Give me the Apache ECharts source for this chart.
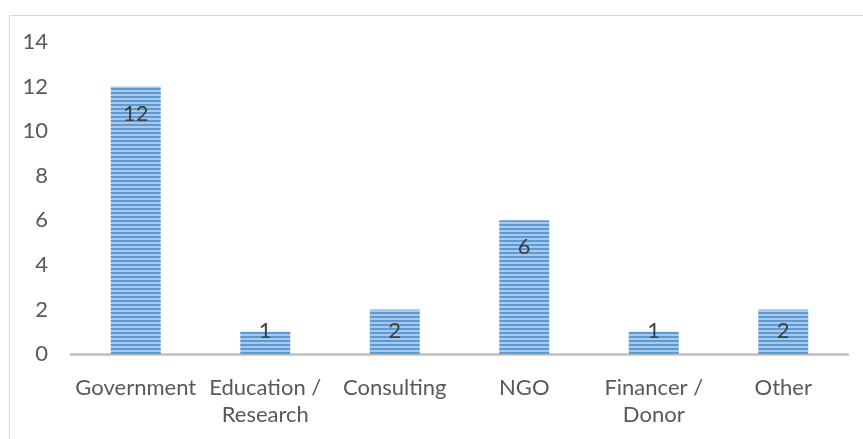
<!DOCTYPE html>
<html><head><meta charset="utf-8">
<script src="https://cdn.jsdelivr.net/npm/echarts@6/dist/echarts.min.js"></script>
<style>html,body{margin:0;padding:0;background:#fff}#c{width:863px;height:439px}</style>
</head><body><div id="c"></div>
<script>
const categories = ['Government', 'Education /\nResearch', 'Consulting', 'NGO', 'Financer /\nDonor', 'Other'];
const values = [12, 1, 2, 6, 1, 2];
const yTicks = { min: 0, max: 14, interval: 2 };

// striped fill pattern
const pc = document.createElement('canvas');
pc.width = 4; pc.height = 4;
const ctx = pc.getContext('2d');
ctx.fillStyle = '#a9c9ec'; ctx.fillRect(0, 0, 4, 4);
ctx.fillStyle = '#5b9bd5'; ctx.fillRect(0, 0, 4, 2);

const gridTop = 42, gridBottom = 85, H = 439;
const pxPerUnit = (H - gridTop - gridBottom) / (yTicks.max - yTicks.min);

const chart = echarts.init(document.getElementById('c'), null, { renderer: 'canvas' });
chart.setOption({
  animation: false,
  graphic: [{
    type: 'rect', left: 7, top: 13, silent: true,
    shape: { width: 900, height: 500 },
    style: { fill: 'none', stroke: '#d9d9d9', lineWidth: 1 }
  }],
  grid: { left: 71, right: 15, top: gridTop, bottom: gridBottom },
  xAxis: {
    type: 'category', data: categories,
    axisLine: { lineStyle: { color: '#bfbfbf', width: 2.5 } },
    axisTick: { show: false },
    axisLabel: { color: '#595959', fontFamily: 'Lato', fontSize: 22, margin: 20, lineHeight: 27, interval: 0 }
  },
  yAxis: {
    type: 'value', min: yTicks.min, max: yTicks.max, interval: yTicks.interval,
    splitLine: { show: false },
    axisLine: { show: false }, axisTick: { show: false },
    axisLabel: { color: '#595959', fontFamily: 'Lato', fontSize: 22, margin: 23 }
  },
  series: [{
    type: 'bar', barWidth: 50,
    data: values.map(v => ({
      value: v,
      label: { position: ['50%', Math.min(27, v * pxPerUnit - 23)] }
    })),
    itemStyle: { color: { image: pc, repeat: 'repeat' } },
    label: {
      show: true, align: 'center', verticalAlign: 'middle',
      color: '#404040', fontFamily: 'Lato', fontSize: 22
    }
  }]
});
</script></body></html>
